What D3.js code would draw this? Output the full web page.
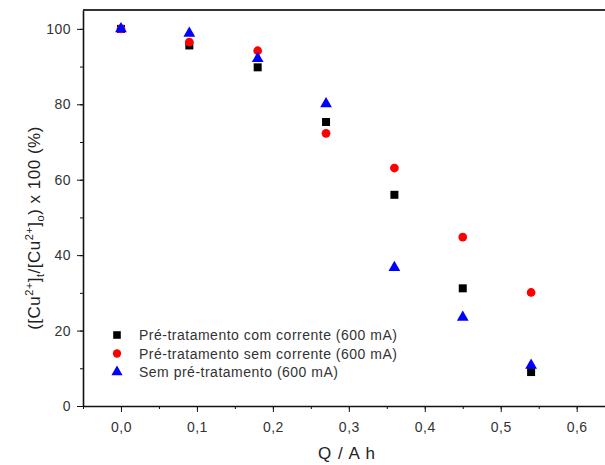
<!DOCTYPE html>
<html lang="pt">
<head>
  <meta charset="UTF-8">
  <title>Remoção de Cu2+</title>
  <script src="https://cdn.jsdelivr.net/npm/d3@7"></script>
  <style>
    body { margin: 0; background: #fff; }
    svg { font-family: "Liberation Sans", Arial, sans-serif; }
    .axis text { font-size: 14px; fill: #333; letter-spacing: 0.5px; }
    .axis path, .axis line { stroke: #111; }
    .legend text { font-size: 14px; fill: #333; letter-spacing: 0.5px; }
  </style>
</head>
<body>
<div id="chart"></div>
<script>
  // Carga (A h)
  var carga = [0, 0.09, 0.18, 0.27, 0.36, 0.45, 0.54];

  // [Cu2+]t/[Cu2+]0 x 100
  var comCorrente = [100, 95.6, 89.8, 75.3, 56.0, 31.2, 9.0];
  var semCorrente = [100, 96.5, 94.2, 72.3, 63.1, 44.8, 30.1];
  var semPre = [100, 98.8, 92.1, 80.1, 36.7, 23.5, 10.8];

  var xTicks = [0, 0.1, 0.2, 0.3, 0.4, 0.5, 0.6];
  var yTicks = [0, 20, 40, 60, 80, 100];

  var series = [
    { name: "Pré-tratamento com corrente (600 mA)", values: comCorrente, color: "#000", symbol: d3.symbolSquare, size: 64 },
    { name: "Pré-tratamento sem corrente (600 mA)", values: semCorrente, color: "#f00", symbol: d3.symbolCircle, size: 60 },
    { name: "Sem pré-tratamento (600 mA)", values: semPre, color: "#00f", symbol: d3.symbolTriangle, size: 60 }
  ];

  var width = 605, height = 465;
  var margin = { left: 83, top: 10, bottom: 59 };

  var svg = d3.select("#chart").append("svg")
    .attr("width", width)
    .attr("height", height);

  var x = d3.scaleLinear().domain([-0.05, 0.65]).range([margin.left, margin.left + 0.7 * 759.5]);
  var y = d3.scaleLinear().domain([0, 105]).range([height - margin.bottom, margin.top]);

  // minor ticks
  svg.append("g")
    .attr("class", "axis")
    .attr("transform", "translate(0," + y(0) + ")")
    .call(d3.axisBottom(x).tickValues(d3.range(-0.05, 0.66, 0.05)).tickSize(3).tickFormat(""))
    .call(function(g) { g.select(".domain").remove(); });
  svg.append("g")
    .attr("class", "axis")
    .attr("transform", "translate(" + margin.left + ",0)")
    .call(d3.axisLeft(y).tickValues(d3.range(10, 101, 10)).tickSize(3).tickFormat(""))
    .call(function(g) { g.select(".domain").remove(); });

  var fmt = function(d) { return d3.format(".1f")(d).replace(".", ","); };

  svg.append("g")
    .attr("class", "axis")
    .attr("transform", "translate(0," + y(0) + ")")
    .call(d3.axisBottom(x).tickValues(xTicks).tickSize(6).tickSizeOuter(0).tickPadding(10).tickFormat(fmt))
    .call(function(g) { g.select(".domain").attr("stroke-width", 1.6); });

  svg.append("g")
    .attr("class", "axis")
    .attr("transform", "translate(" + margin.left + ",0)")
    .call(d3.axisLeft(y).tickValues(yTicks).tickSize(6).tickSizeOuter(0).tickPadding(6))
    .call(function(g) { g.select(".domain").attr("stroke-width", 1.6); });

  // top border
  svg.append("line")
    .attr("x1", margin.left).attr("x2", width)
    .attr("y1", margin.top).attr("y2", margin.top)
    .attr("stroke", "#333").attr("stroke-width", 2);

  // points
  series.forEach(function(s) {
    svg.append("g").selectAll("path")
      .data(s.values)
      .enter()
      .append("path")
      .attr("d", d3.symbol().type(s.symbol).size(s.size))
      .attr("transform", function(d, i) { return "translate(" + x(carga[i]) + "," + y(d) + ")"; })
      .attr("fill", s.color);
  });

  // legend
  var legend = svg.append("g").attr("class", "legend");
  series.forEach(function(s, i) {
    var ly = 335 + i * 18.5;
    legend.append("path")
      .attr("d", d3.symbol().type(s.symbol).size(s.size * 0.9))
      .attr("transform", "translate(117," + ly + ")")
      .attr("fill", s.color);
    legend.append("text")
      .attr("x", 139).attr("y", ly + 5)
      .text(s.name);
  });

  // axis titles
  svg.append("text")
    .attr("x", 347).attr("y", 459)
    .attr("text-anchor", "middle")
    .attr("font-size", 17)
    .attr("letter-spacing", 1)
    .attr("fill", "#222")
    .text("Q / A h");

  var yt = svg.append("text")
    .attr("transform", "translate(40,228) rotate(-90)")
    .attr("text-anchor", "middle")
    .attr("font-size", 17)
    .attr("letter-spacing", 0.5)
    .attr("fill", "#222");
  yt.append("tspan").text("([Cu");
  yt.append("tspan").attr("dy", -7).attr("font-size", 11).text("2+");
  yt.append("tspan").attr("dy", 7).text("]");
  yt.append("tspan").attr("dy", 4).attr("font-size", 11).text("t");
  yt.append("tspan").attr("dy", -4).text("/[Cu");
  yt.append("tspan").attr("dy", -7).attr("font-size", 11).text("2+");
  yt.append("tspan").attr("dy", 7).text("]");
  yt.append("tspan").attr("dy", 4).attr("font-size", 11).text("o");
  yt.append("tspan").attr("dy", -4).text(") x 100 (%)");
</script>
</body>
</html>
